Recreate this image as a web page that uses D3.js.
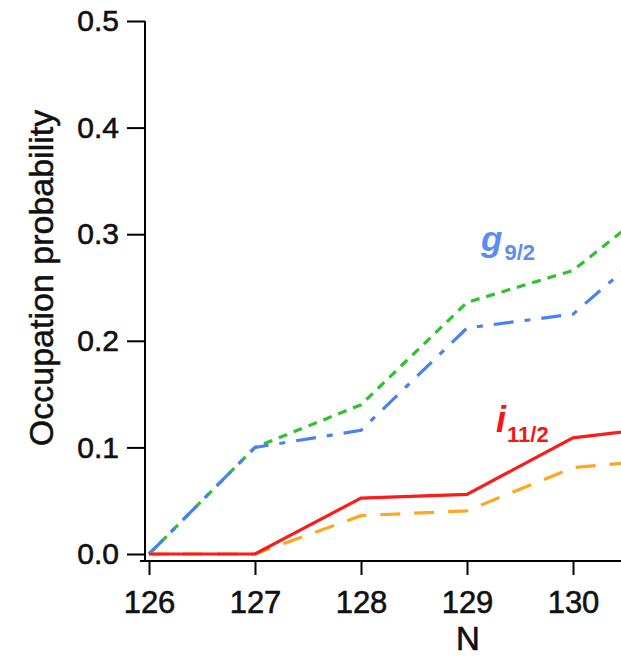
<!DOCTYPE html>
<html>
<head>
<meta charset="utf-8">
<script src="https://cdn.jsdelivr.net/npm/d3@7"></script>
<style>
  html, body { margin: 0; padding: 0; background: #fff; }
  svg { display: block; font-family: "Liberation Sans", Arial, sans-serif; }
</style>
</head>
<body>
<svg id="chart" width="621" height="658"></svg>
<script>
// Neutron number N
const neutrons = [126, 127, 128, 129, 130, 131];
// Occupation probabilities per orbital / calculation
const g92Upper = [0.000, 0.100, 0.140, 0.236, 0.266, 0.345];   // green dotted
const g92Lower = [0.000, 0.100, 0.116, 0.212, 0.225, 0.311];   // blue dash-dot
const i112Upper = [0.000, 0.000, 0.0525, 0.056, 0.109, 0.121]; // red solid
const i112Lower = [0.000, 0.000, 0.036, 0.0405, 0.081, 0.090]; // orange dashed

const xTicks = [126, 127, 128, 129, 130];
const yTicks = [0.0, 0.1, 0.2, 0.3, 0.4, 0.5];

const svg = d3.select("#chart");

const x = d3.scaleLinear().domain([126, 130]).range([149, 573]);
const y = d3.scaleLinear().domain([0, 0.5]).range([554, 21]);

const series = [
  { values: g92Upper, color: "#2fc22f", dash: "9,7" },
  { values: g92Lower, color: "#4a80f2", dash: "20,11,6,11" },
  { values: i112Lower, color: "#ffa620", dash: "20,14" },
  { values: i112Upper, color: "#fa1c1c", dash: null }
];

const line = d3.line()
  .x((d, i) => x(neutrons[i]))
  .y(d => y(d));

svg.append("g")
  .selectAll("path")
  .data(series)
  .join("path")
  .attr("d", s => line(s.values))
  .attr("fill", "none")
  .attr("stroke", s => s.color)
  .attr("stroke-width", 3.2)
  .attr("stroke-dasharray", s => s.dash);

// Y axis
const yAxis = svg.append("g")
  .attr("transform", "translate(145,0)")
  .call(d3.axisLeft(y).tickValues(yTicks).tickFormat(d3.format(".1f")).tickSize(18).tickSizeOuter(0).tickPadding(8));
yAxis.select(".domain").attr("d", "M0,21V561").attr("stroke", "#000").attr("stroke-width", 2);
yAxis.selectAll(".tick line").attr("stroke-width", 2);
yAxis.selectAll(".tick text").attr("font-size", 30).attr("fill", "#111")
  .attr("stroke", "#111").attr("stroke-width", 0.6)
  .attr("font-family", "'Liberation Sans', Arial, sans-serif");

// X axis
const xAxis = svg.append("g")
  .attr("transform", "translate(0,561)")
  .call(d3.axisBottom(x).tickValues(xTicks).tickFormat(d3.format("d")).tickSize(14).tickSizeOuter(0).tickPadding(16));
xAxis.select(".domain").attr("d", "M140,0H621").attr("stroke", "#000").attr("stroke-width", 2);
xAxis.selectAll(".tick line").attr("stroke-width", 2);
xAxis.selectAll(".tick text").attr("font-size", 31).attr("fill", "#111")
  .attr("stroke", "#111").attr("stroke-width", 0.6)
  .attr("font-family", "'Liberation Sans', Arial, sans-serif");

// Axis titles
svg.append("text")
  .attr("x", 468).attr("y", 650)
  .attr("text-anchor", "middle")
  .attr("font-size", 33)
  .attr("fill", "#111")
  .attr("stroke", "#111").attr("stroke-width", 0.6)
  .text("N");

svg.append("text")
  .attr("transform", "translate(53,278) rotate(-90)")
  .attr("text-anchor", "middle")
  .attr("font-size", 34)
  .attr("fill", "#111")
  .attr("stroke", "#111").attr("stroke-width", 0.5)
  .text("Occupation probability");

// Orbital labels
const gLabel = svg.append("text")
  .attr("x", 481).attr("y", 251)
  .attr("fill", "#5b8def")
  .attr("font-weight", "bold");
gLabel.append("tspan").attr("font-size", 35).attr("font-style", "italic").text("g");
gLabel.append("tspan").attr("font-size", 22).attr("dy", 9).attr("dx", 2).text("9/2");

const iLabel = svg.append("text")
  .attr("x", 496).attr("y", 432)
  .attr("fill", "#f51515")
  .attr("font-weight", "bold");
iLabel.append("tspan").attr("font-size", 36).attr("font-style", "italic").text("i");
iLabel.append("tspan").attr("font-size", 22).attr("dy", 10).attr("dx", 1).text("11/2");
</script>
</body>
</html>
